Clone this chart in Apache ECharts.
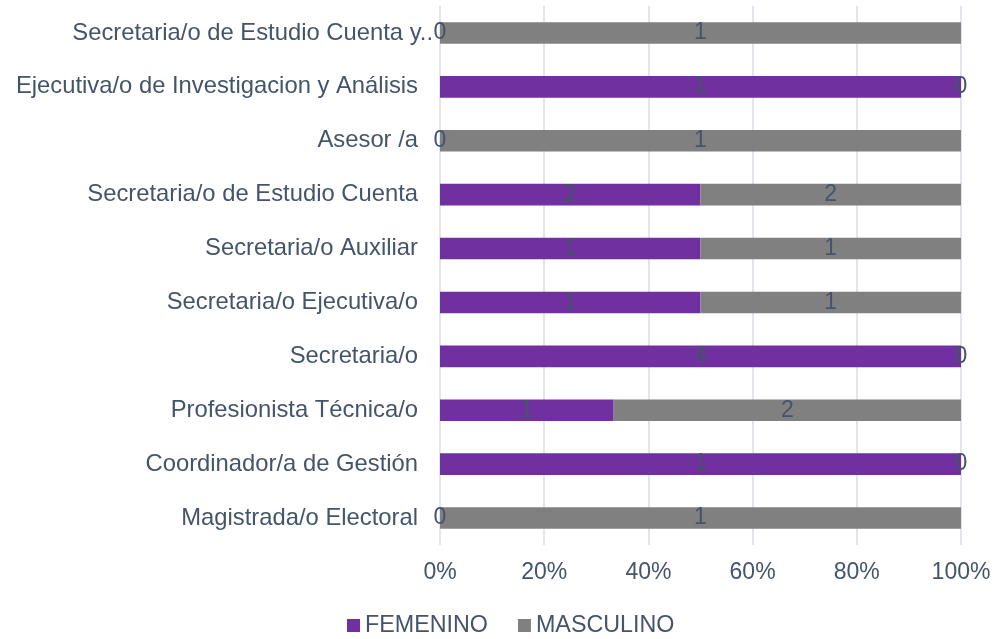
<!DOCTYPE html>
<html>
<head>
<meta charset="utf-8">
<script src="https://cdn.jsdelivr.net/npm/echarts@6/dist/echarts.min.js"></script>
<style>
html,body{margin:0;padding:0;background:#fff;}
#chart{width:994px;height:639px;}
</style>
</head>
<body>
<div id="chart"></div>
<script>
const categories = [
  "Magistrada/o Electoral",
  "Coordinador/a de Gestión",
  "Profesionista Técnica/o",
  "Secretaria/o",
  "Secretaria/o Ejecutiva/o",
  "Secretaria/o Auxiliar",
  "Secretaria/o de Estudio Cuenta",
  "Asesor /a",
  "Ejecutiva/o de Investigacion y Análisis",
  "Secretaria/o de Estudio Cuenta y.."
];
const femenino  = [0, 1, 1, 4, 1, 1, 2, 0, 1, 0];
const masculino = [1, 0, 2, 0, 1, 1, 2, 1, 0, 1];
const seriesNames = ["FEMENINO", "MASCULINO"];
const xTicks = [0, 20, 40, 60, 80, 100];

const totals = femenino.map((f, i) => f + masculino[i]);
const pct = arr => arr.map((v, i) => ({ value: totals[i] ? v / totals[i] * 100 : 0, raw: v }));

const txt = '#44546A';
const font = "'Liberation Sans', Arial, sans-serif";

const chart = echarts.init(document.getElementById('chart'), null, { renderer: 'canvas' });
const labelCfg = {
  show: true,
  position: 'inside',
  color: txt,
  fontSize: 23,
  fontFamily: font,
  formatter: p => String(p.data.raw)
};
chart.setOption({
  animation: false,
  textStyle: { fontFamily: font },
  grid: { left: 440, right: 33, top: 6, bottom: 94, containLabel: false },
  legend: {
    top: 609,
    left: 342,
    itemWidth: 13,
    itemHeight: 13,
    itemGap: 30,
    icon: 'rect',
    textStyle: { color: txt, fontSize: 23.3, fontFamily: font },
    data: seriesNames
  },
  xAxis: {
    type: 'value',
    min: 0,
    max: 100,
    interval: 20,
    axisLine: { show: false },
    axisTick: { show: false },
    splitLine: { show: true, lineStyle: { color: '#E1E5EC', width: 2 } },
    axisLabel: {
      color: txt, fontSize: 23, fontFamily: font, margin: 16,
      formatter: v => xTicks.includes(v) ? v + '%' : ''
    }
  },
  yAxis: {
    type: 'category',
    data: categories,
    axisLine: { show: false },
    axisTick: { show: false },
    splitLine: { show: false },
    axisLabel: {
      color: txt, fontSize: 23.8, fontFamily: font, margin: 22,
      formatter: v => v.endsWith('..') ? '{o|' + v + '}' : v,
      rich: { o: { color: txt, fontSize: 23.8, fontFamily: font, padding: [0, -15, 0, 0] } }
    }
  },
  series: [
    {
      name: seriesNames[0], type: 'bar', stack: 'total', barWidth: '40%',
      itemStyle: { color: '#7030A0' },
      label: labelCfg,
      data: pct(femenino)
    },
    {
      name: seriesNames[1], type: 'bar', stack: 'total', barWidth: '40%',
      itemStyle: { color: '#808080' },
      label: labelCfg,
      data: pct(masculino)
    }
  ]
});
</script>
</body>
</html>
